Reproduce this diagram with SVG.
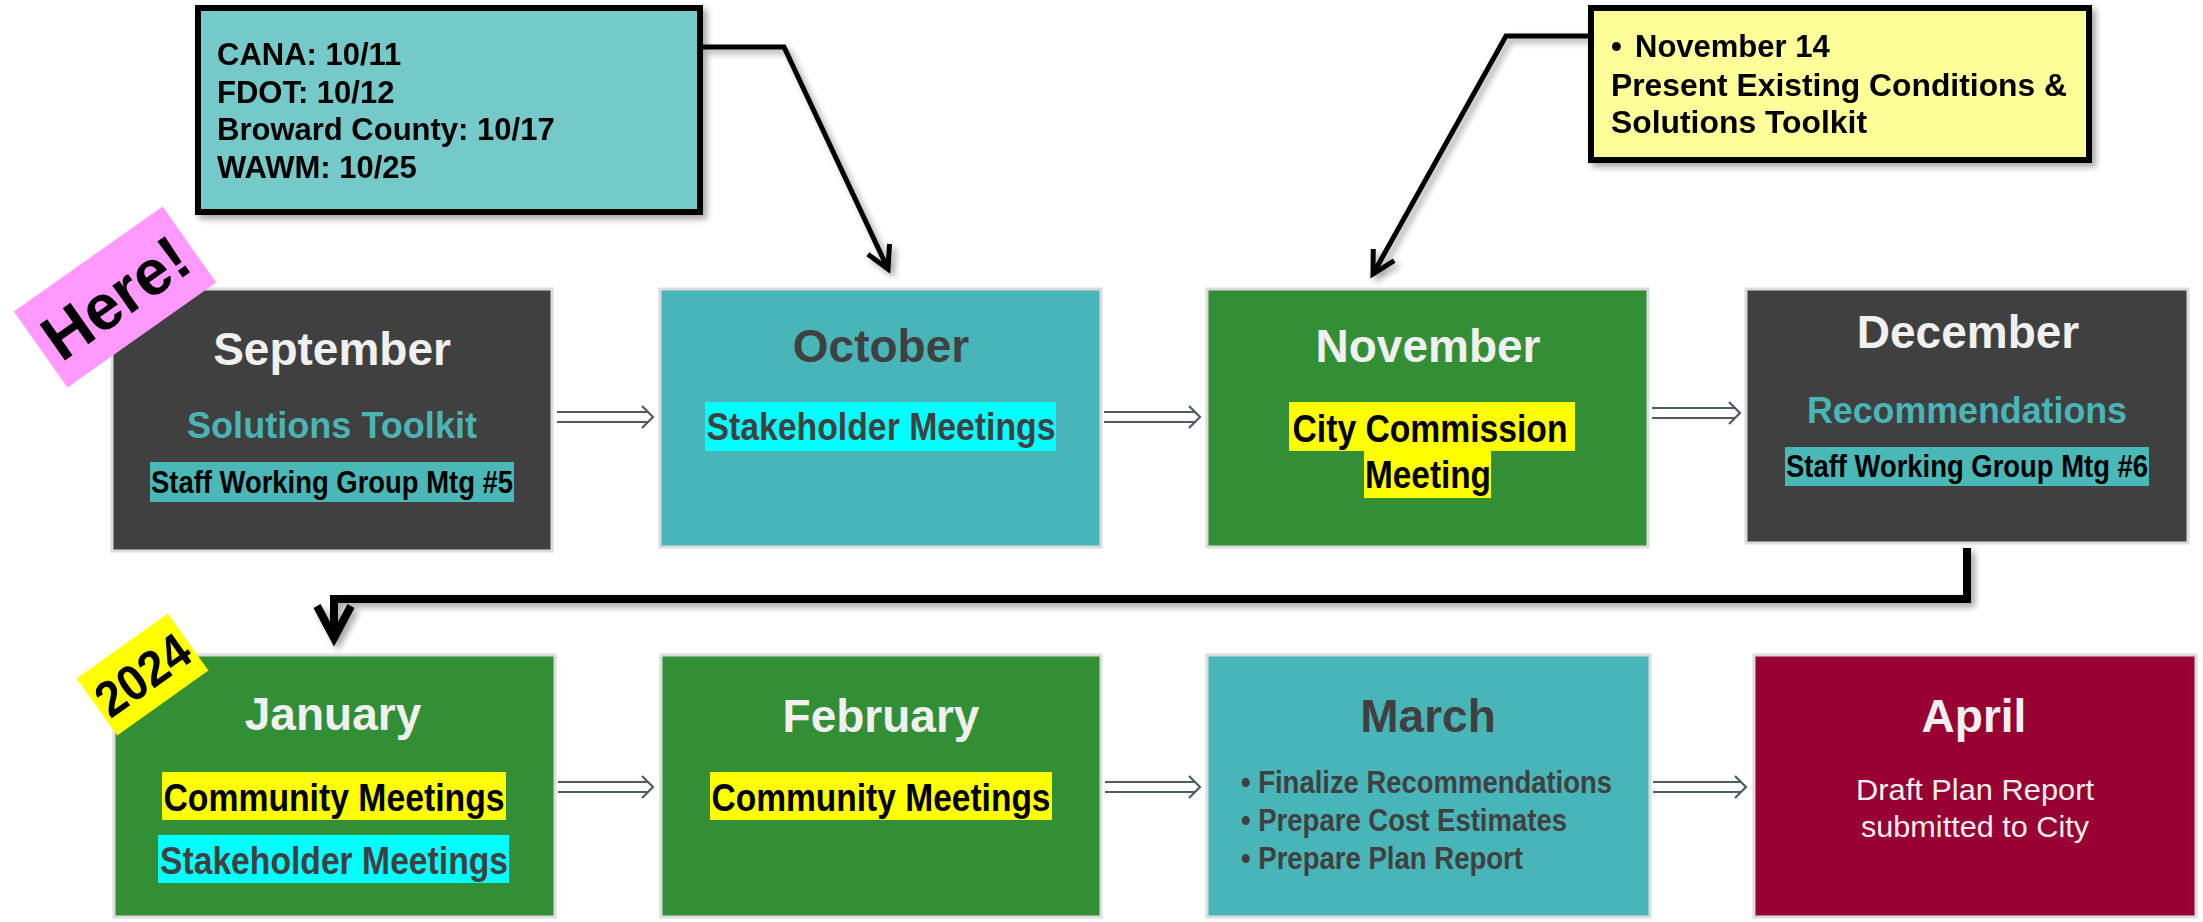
<svg xmlns="http://www.w3.org/2000/svg" width="2203" height="922" viewBox="0 0 2203 922">
  <style>
    text { font-family: "Liberation Sans", Arial, sans-serif; }
    .b { font-weight: bold; }
    .month { font-weight: bold; font-size: 46px; text-anchor: middle; }
    .light { fill: #F0F0F0; }
    .dark { fill: #404040; }
    .box { stroke: #DCDCDC; stroke-width: 3; }
    .grey { fill: #404040; }
    .teal { fill: #48B6B8; }
    .green { fill: #338F36; }
    .crimson { fill: #990033; }
    .hl-yellow { fill: #FFFF00; }
    .hl-cyan { fill: #00FFFF; }
    .hl-teal { fill: #4BB8B8; }
    .callout { stroke: #000; stroke-width: 6; }
    .note { font-weight: bold; font-size: 31px; fill: #000; }
    .flow { fill: none; stroke: #505A6A; stroke-width: 2.2; stroke-linejoin: miter; }
    .link { fill: none; stroke: #000; stroke-linejoin: miter; }
  </style>
  <defs>
    <filter id="shadow" x="-10%" y="-10%" width="130%" height="130%">
      <feDropShadow dx="4" dy="4" stdDeviation="3" flood-color="#000" flood-opacity="0.35"/>
    </filter>
    <marker id="barb" markerUnits="userSpaceOnUse" viewBox="-30 -16 34 32" refX="0" refY="0" markerWidth="34" markerHeight="32" orient="auto" overflow="visible">
      <path d="M-22,-12 L0,0 L-22,12" fill="none" stroke="#000" stroke-width="5"/>
    </marker>
    <marker id="barbHeavy" markerUnits="userSpaceOnUse" viewBox="-40 -22 46 44" refX="0" refY="0" markerWidth="46" markerHeight="44" orient="auto" overflow="visible">
      <path d="M-32,-17 L0,0 L-32,17" fill="none" stroke="#000" stroke-width="8"/>
    </marker>
  </defs>

  <rect width="2203" height="922" fill="#FFFFFF"/>

  <!-- first row: autumn months -->
  <g id="september">
    <rect class="box grey" x="112" y="289" width="440" height="262"/>
    <text class="month light" x="332" y="365">September</text>
    <text class="b" x="332" y="438" font-size="36" text-anchor="middle" fill="#4BB5B5" textLength="290" lengthAdjust="spacingAndGlyphs">Solutions Toolkit</text>
    <rect class="hl-teal" x="150" y="462" width="364" height="40"/>
    <text class="b" x="332" y="493" font-size="31" text-anchor="middle" fill="#000" textLength="362" lengthAdjust="spacingAndGlyphs">Staff Working Group Mtg #5</text>
  </g>

  <g id="october">
    <rect class="box teal" x="660" y="289" width="441" height="258"/>
    <text class="month dark" x="881" y="362">October</text>
    <rect class="hl-cyan" x="705" y="402" width="351" height="49"/>
    <text class="b dark" x="881" y="440" font-size="38" text-anchor="middle" textLength="349" lengthAdjust="spacingAndGlyphs">Stakeholder Meetings</text>
  </g>

  <g id="november">
    <rect class="box green" x="1207" y="289" width="441" height="258"/>
    <text class="month light" x="1428" y="362">November</text>
    <rect class="hl-yellow" x="1289" y="402" width="286" height="49"/>
    <rect class="hl-yellow" x="1364" y="450" width="127" height="48"/>
    <text class="b" x="1430" y="442" font-size="38" text-anchor="middle" fill="#000" textLength="275" lengthAdjust="spacingAndGlyphs">City Commission</text>
    <text class="b" x="1428" y="488" font-size="38" text-anchor="middle" fill="#000" textLength="126" lengthAdjust="spacingAndGlyphs">Meeting</text>
  </g>

  <g id="december">
    <rect class="box grey" x="1746" y="289" width="442" height="254"/>
    <text class="month light" x="1968" y="348">December</text>
    <text class="b" x="1967" y="423" font-size="36" text-anchor="middle" fill="#48B6B8" textLength="320" lengthAdjust="spacingAndGlyphs">Recommendations</text>
    <rect class="hl-teal" x="1785" y="447" width="364" height="39"/>
    <text class="b" x="1967" y="477" font-size="31" text-anchor="middle" fill="#000" textLength="362" lengthAdjust="spacingAndGlyphs">Staff Working Group Mtg #6</text>
  </g>

  <!-- second row: 2024 months -->
  <g id="january">
    <rect class="box green" x="114" y="655" width="441" height="262"/>
    <text class="month light" x="333" y="730">January</text>
    <rect class="hl-yellow" x="162" y="772" width="344" height="48"/>
    <text class="b" x="334" y="811" font-size="38" text-anchor="middle" fill="#000" textLength="341" lengthAdjust="spacingAndGlyphs">Community Meetings</text>
    <rect class="hl-cyan" x="158" y="835" width="351" height="48"/>
    <text class="b dark" x="334" y="874" font-size="38" text-anchor="middle" textLength="348" lengthAdjust="spacingAndGlyphs">Stakeholder Meetings</text>
  </g>

  <g id="february">
    <rect class="box green" x="661" y="655" width="440" height="262"/>
    <text class="month light" x="881" y="732">February</text>
    <rect class="hl-yellow" x="710" y="772" width="342" height="48"/>
    <text class="b" x="881" y="811" font-size="38" text-anchor="middle" fill="#000" textLength="339" lengthAdjust="spacingAndGlyphs">Community Meetings</text>
  </g>

  <g id="march">
    <rect class="box teal" x="1207" y="655" width="443" height="262"/>
    <text class="month dark" x="1428" y="732">March</text>
    <text class="b dark" x="1241" y="793" font-size="32" textLength="371" lengthAdjust="spacingAndGlyphs">• Finalize Recommendations</text>
    <text class="b dark" x="1241" y="831" font-size="32" textLength="326" lengthAdjust="spacingAndGlyphs">• Prepare Cost Estimates</text>
    <text class="b dark" x="1241" y="869" font-size="32" textLength="282" lengthAdjust="spacingAndGlyphs">• Prepare Plan Report</text>
  </g>

  <g id="april">
    <rect class="box crimson" x="1754" y="655" width="442" height="262"/>
    <text class="month light" x="1974" y="732">April</text>
    <text class="light" x="1975" y="800" font-size="30" text-anchor="middle" textLength="238" lengthAdjust="spacingAndGlyphs">Draft Plan Report</text>
    <text class="light" x="1975" y="837" font-size="30" text-anchor="middle" textLength="228" lengthAdjust="spacingAndGlyphs">submitted to City</text>
  </g>

  <!-- corner tags -->
  <g id="tag-here" transform="translate(115,297) rotate(-35.2)">
    <rect x="-91" y="-46.5" width="182" height="93" fill="#FF99FF"/>
    <text class="b" x="0" y="23" font-size="64" text-anchor="middle" fill="#000">Here!</text>
  </g>

  <g id="tag-2024" transform="translate(142.5,674.5) rotate(-35.5)">
    <rect x="-56" y="-35" width="112" height="70" fill="#FFFF00"/>
    <text class="b" x="0" y="18" font-size="50" text-anchor="middle" fill="#000" textLength="104" lengthAdjust="spacingAndGlyphs">2024</text>
  </g>

  <!-- note callouts -->
  <g id="note-october" filter="url(#shadow)">
    <rect class="callout" x="198" y="8" width="502" height="204" fill="#76C9C9"/>
    <text class="note" x="217" y="65">CANA: 10/11</text>
    <text class="note" x="217" y="103">FDOT: 10/12</text>
    <text class="note" x="217" y="140">Broward County: 10/17</text>
    <text class="note" x="217" y="178">WAWM: 10/25</text>
  </g>

  <g id="note-november" filter="url(#shadow)">
    <rect class="callout" x="1591" y="8" width="498" height="152" fill="#FFFF99"/>
    <text class="note" x="1611" y="57">•</text>
    <text class="note" x="1635" y="57">November 14</text>
    <text class="note" x="1611" y="96" textLength="456" lengthAdjust="spacingAndGlyphs">Present Existing Conditions &amp;</text>
    <text class="note" x="1611" y="133" textLength="256" lengthAdjust="spacingAndGlyphs">Solutions Toolkit</text>
  </g>

  <!-- connectors -->
  <g id="connectors">
    <g filter="url(#shadow)">
      <path class="link" stroke-width="5" d="M703,47 H784 L888,269" marker-end="url(#barb)"/>
      <path class="link" stroke-width="5" d="M1588,36 H1506 L1373,274" marker-end="url(#barb)"/>
      <path class="link" stroke-width="8" d="M1967,548 V599 H334 V638" marker-end="url(#barbHeavy)"/>
    </g>
    <path class="flow" d="M557,412 H648 M557,422 H648 M642,406 L653,417 L642,428"/>
    <path class="flow" d="M1104,412 H1195 M1104,422 H1195 M1189,406 L1200,417 L1189,428"/>
    <path class="flow" d="M1652,408 H1735 M1652,418 H1735 M1729,402 L1740,413 L1729,424"/>
    <path class="flow" d="M558,782 H648 M558,792 H648 M642,776 L653,787 L642,798"/>
    <path class="flow" d="M1105,782 H1195 M1105,792 H1195 M1189,776 L1200,787 L1189,798"/>
    <path class="flow" d="M1653,782 H1741 M1653,792 H1741 M1735,776 L1746,787 L1735,798"/>
  </g>
</svg>
